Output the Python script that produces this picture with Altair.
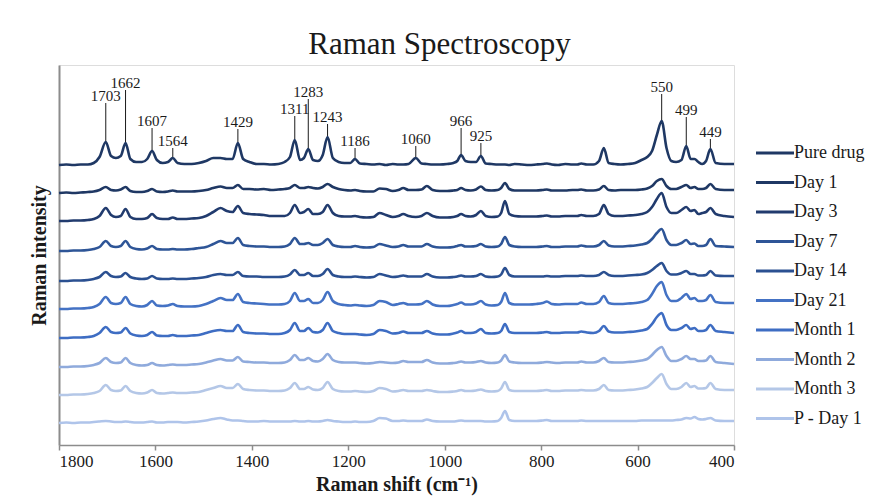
import altair as alt
import pandas as pd

# Raman shift grid (cm-1)
shift = [
    1800, 1785, 1770, 1755, 1740, 1728, 1716, 1703, 1692, 1682,
    1672, 1662, 1652, 1640, 1628, 1617, 1607, 1597, 1585, 1574,
    1564, 1554, 1540, 1525, 1510, 1495, 1480, 1465, 1452, 1440,
    1429, 1418, 1405, 1390, 1375, 1360, 1345, 1332, 1321, 1311,
    1300, 1292, 1283, 1273, 1263, 1253, 1243, 1232, 1220, 1208,
    1196, 1186, 1176, 1162, 1148, 1135, 1122, 1108, 1096, 1086,
    1075, 1060, 1048, 1037, 1025, 1010, 995, 982, 974, 966,
    957, 946, 935, 925, 915, 903, 890, 883, 875, 866,
    855, 840, 825, 810, 797, 788, 778, 765, 750, 735,
    725, 717, 705, 692, 680, 670, 660, 648, 635, 620,
    605, 592, 580, 570, 560, 550, 540, 530, 520, 509,
    499, 490, 482, 474, 466, 458, 449, 438, 420, 400,
]

series = ["Pure drug", "Day 1", "Day 3", "Day 7", "Day 14", "Day 21",
          "Month 1", "Month 2", "Month 3", "P - Day 1"]
offsets = [280, 252, 224, 194, 164, 136, 107, 78, 50, 22]
colors = ["#1F3864", "#1F3864", "#213B6E", "#2E5597", "#2B5091", "#4472C4",
          "#3E6DC3", "#8FAADC", "#B4C7E7", "#AFC4EA"]

pure_drug = [
    0, 0.5, 0, 0.5, 0.5, 2, 8, 23, 9, 7,
    9, 22, 6, 3, 3, 6, 14, 5, 2, 3,
    7, 2, 1, 1, 2, 4, 7, 7, 6, 6,
    22, 6, 3, 1, 1, 0.5, 1, 3, 8, 25,
    5, 7, 16, 5, 4, 10, 28, 7, 3, 2,
    2, 6, 1.5, 1, 0.5, 1, 0, 1, 0.5, 0.5,
    1, 7, 1.5, 1, 0.5, 0.5, 1, 2, 4, 10,
    4, 3, 3, 9, 1.5, 1, 0.5, 0.5, 0.5, 0,
    1, 0.5, 0, 0.5, 1, 1.5, 0.5, 0, 1, 0.5,
    0.5, 1.5, 0.5, 0.5, 4, 17, 2, 1, 0.5, 1,
    2, 5, 8, 14, 30, 44, 17, 4, 3, 5,
    19, 6, 6, 3, 1, 4, 16, 2, 1, 1,
]
day_1 = [
    0, 0.5, 0, 0.5, 1, 1.5, 3, 6, 3, 2.5,
    3.5, 6, 2, 1, 1, 2, 4, 1.5, 1, 1.5,
    2.5, 1.5, 1.5, 1.5, 2, 3, 5, 6.5, 5, 5,
    8, 4, 4, 3.5, 4, 3, 3.5, 4, 5, 8,
    5, 5, 6, 5, 4.5, 6, 9, 6, 4, 3,
    2.5, 3, 2, 1.5, 1.5, 4.5, 4, 2, 3, 5,
    3, 3, 3.5, 7, 3, 2, 2, 2.5, 3, 5,
    3, 2.5, 3.5, 6.5, 3, 2.5, 3, 5, 10, 4,
    2.5, 2.5, 2.5, 2.5, 3, 3.5, 2.5, 2.5, 2.5, 3,
    3, 3.5, 2.5, 2.5, 3.5, 7, 3, 2.5, 3, 3,
    3, 3.5, 4.5, 7, 12, 14, 7, 4, 4, 6,
    8, 5, 6, 4, 4, 5, 9, 4, 3, 3,
]
day_3 = [
    0, 0, 0.5, 0.5, 1, 2, 5, 13, 6, 4,
    5, 12, 4, 2, 2, 3, 7, 3, 2, 2,
    3.5, 2, 2, 2.5, 3, 5, 9, 13, 10, 9,
    15, 8, 7, 6.5, 6, 5, 5, 5, 8, 16,
    8, 9, 12, 7, 7, 9, 16, 8, 5, 4.5,
    4.5, 5, 4, 3.5, 4, 8, 6, 4, 5, 7,
    5, 4, 5, 8, 5, 3.5, 3.5, 4, 5, 7,
    5, 4.5, 6, 10, 5, 4, 4.5, 8, 20, 7,
    5, 4.5, 4.5, 4.5, 5, 5.5, 4.5, 4.5, 5, 5,
    5, 6, 5, 5, 7, 16, 7, 5, 5, 5.5,
    6, 7, 9, 14, 22, 28, 14, 8, 8, 11,
    14, 10, 11, 7, 8, 9, 13, 7, 5, 4,
]
day_7 = [
    0, 0, 0.5, 0.5, 1, 2, 4, 10, 5, 4,
    5, 10, 4, 2, 1.5, 2.5, 5, 2, 1.5, 1.5,
    2, 1.5, 1.5, 2, 3, 4, 7, 10, 8, 8,
    13, 6, 5, 4.5, 4.5, 4, 4, 4.5, 7, 13,
    7, 7, 8, 6, 6, 8, 12, 6, 4.5, 4,
    4, 5, 4, 3.5, 4, 7, 5.5, 4, 4.5, 6,
    4.5, 4.5, 4.5, 7, 4.5, 3.5, 3.5, 4, 5, 6,
    4.5, 4.5, 5, 7, 4.5, 4, 4.5, 7, 14, 6,
    4.5, 4, 4, 4, 4.5, 5, 4, 4, 4.5, 4.5,
    4.5, 5.5, 4.5, 4.5, 6, 10, 5.5, 4.5, 4.5, 5,
    5.5, 6.5, 8, 12, 18, 22, 11, 6, 6, 8,
    11, 7, 7.5, 5, 5, 6, 12, 5, 4.5, 4,
]
day_14 = [
    0, 0, 0.5, 0.5, 1, 2, 4, 9, 5, 4,
    4.5, 8, 4, 2.5, 2, 2.5, 5, 2.5, 2, 2,
    2.5, 2, 2, 2.5, 3, 4, 6, 7, 6, 6,
    9, 5, 4.5, 4.5, 4, 4, 4, 4.5, 6.5, 11,
    6, 6, 8, 5, 5, 7, 12, 6, 4.5, 4,
    4, 4.5, 4, 3.5, 4, 7, 5.5, 4, 4.5, 5.5,
    4.5, 4.5, 4.5, 7, 4.5, 3.5, 3.5, 4, 4.5, 5.5,
    4.5, 4.5, 5, 7, 4.5, 4, 4.5, 6.5, 13, 6,
    4.5, 4.5, 4.5, 4.5, 4.5, 5, 4.5, 4.5, 5, 5,
    5, 5.5, 5, 5, 6, 9, 6, 5, 5, 5.5,
    6, 6.5, 8, 11, 15, 18, 10, 6.5, 6.5, 8,
    10, 7, 7, 5.5, 5.5, 6, 10, 5.5, 5, 5,
]
day_21 = [
    0, 0, 0.5, 0.5, 1, 2, 5, 12, 6, 5,
    6, 12, 5, 3, 2.5, 4, 8, 3.5, 3, 3.5,
    5, 3, 2.5, 2.5, 3, 5, 8, 11, 9, 9,
    15, 7, 6, 5.5, 5, 4.5, 4.5, 5, 8, 16,
    8, 8, 10, 6, 6, 9, 17, 8, 5, 4,
    3.5, 4, 3.5, 3, 4, 8, 7, 4, 5, 6,
    4.5, 4.5, 5, 8, 4.5, 3, 3, 4, 5, 6.5,
    4.5, 4.5, 5.5, 8, 4.5, 3.5, 4, 7, 16, 6,
    4.5, 4.5, 4.5, 5, 6, 7.5, 5, 4.5, 5, 5,
    5, 6.5, 5, 5, 7, 13, 6, 5, 5, 5.5,
    6, 7, 9, 15, 23, 27, 14, 8, 8, 11,
    15, 10, 11, 8, 8, 9, 14, 7, 6, 6,
]
month_1 = [
    0, 0, 0.5, 0.5, 1, 2, 5, 11, 6, 5,
    5.5, 10, 4.5, 2.5, 2, 3, 6, 2.5, 2, 2,
    3, 2, 2, 2.5, 3, 5, 7, 8, 7, 7,
    13, 6, 5, 4.5, 4.5, 4, 4, 5, 8, 15,
    7, 7, 10, 6, 5.5, 8, 15, 7, 5, 4,
    4, 4, 3.5, 3, 4, 8, 7, 4.5, 5, 6.5,
    5, 5, 5, 7, 4.5, 3.5, 3.5, 4.5, 5.5, 7,
    5, 5, 6, 9, 5, 4.5, 5, 7, 14, 6,
    5, 5, 5, 5, 5.5, 6, 5, 5, 5.5, 5.5,
    5.5, 6.5, 5.5, 5, 7, 12, 6.5, 5.5, 5.5, 6,
    6.5, 7.5, 9, 14, 21, 25, 13, 8, 8, 10,
    13, 9, 10, 7, 7, 8, 13, 7, 6, 5,
]
month_2 = [
    0, 0, 0.5, 0.5, 1, 2, 4, 9, 5, 4,
    4.5, 9, 4, 2, 1.5, 2, 4, 2, 1.5, 2,
    2.5, 2, 2, 2.5, 3, 4.5, 6.5, 8, 6.5, 6.5,
    10, 5.5, 5, 4.5, 4.5, 4, 4, 4.5, 7, 12,
    7, 7, 9, 6, 5.5, 8, 13, 7, 5, 4.5,
    4.5, 4.5, 4, 3.5, 4, 5, 4.5, 4, 4.5, 6,
    5, 5, 5, 7, 4.5, 3.5, 3.5, 4, 4.5, 5.5,
    4.5, 4.5, 5, 6, 4.5, 4, 4.5, 6.5, 12, 5.5,
    4.5, 4, 4, 4, 4.5, 5, 4.5, 4, 4.5, 4.5,
    4.5, 5.5, 4.5, 4.5, 6, 9, 5, 4.5, 4.5, 5,
    5.5, 6.5, 8, 12, 17, 20, 11, 6, 6, 8,
    11, 8, 8, 6, 6, 6.5, 11, 5, 4, 3,
]
month_3 = [
    0, 0, 0.5, 0.5, 1, 2, 4, 10, 5, 4,
    4.5, 9, 4, 2, 1.5, 2.5, 5, 2, 1.5, 2,
    2.5, 2, 2, 2.5, 3, 5, 7, 9, 7, 7,
    11, 6, 5, 4.5, 4.5, 4, 4, 4.5, 7, 12,
    6, 6, 8, 5.5, 5, 7, 13, 6, 4, 3.5,
    3.5, 4, 3.5, 3, 4, 7, 6, 3.5, 4, 5,
    4, 4, 4, 5, 4, 3, 3, 3.5, 4, 5,
    4, 4, 4.5, 5.5, 4, 3.5, 4, 6.5, 13, 5,
    4, 4, 4, 4, 4.5, 5, 4, 4, 4.5, 4.5,
    4.5, 5, 4.5, 4.5, 6, 10, 5, 4.5, 4.5, 5,
    5.5, 6.5, 8, 12, 17, 21, 11, 6, 6, 8,
    12, 8, 9, 6.5, 6.5, 7, 12, 6, 5, 5,
]
p_day_1 = [
    0, 0.5, 0, 0.5, 0.5, 1, 1.5, 2, 1.5, 1,
    1, 1.5, 1, 0.5, 0.5, 1, 1.5, 0.5, 0.5, 1,
    1, 1, 0.5, 1, 1.5, 2.5, 4, 5, 3.5, 2.5,
    2.5, 2, 1.5, 1.5, 2, 1.5, 1.5, 1.5, 1.5, 2,
    1.5, 1.5, 2, 1.5, 1.5, 2, 3, 2, 1.5, 1,
    1, 1.5, 1, 1, 2, 5, 4.5, 2, 2, 2.5,
    2, 2, 2, 3.5, 2, 1.5, 1.5, 1.5, 2, 2.5,
    2, 2, 2, 2, 1.5, 1.5, 2, 5, 12, 3,
    2, 2, 2, 2, 2.5, 3, 2, 2, 2, 2,
    2, 2.5, 2, 2, 2, 2, 2, 2, 2, 2,
    2, 2.5, 2.5, 2.5, 2.5, 2.5, 2.5, 2.5, 3, 3.5,
    5, 4.5, 6, 4, 3.5, 4, 5, 2.5, 2, 2,
]

intensities = [pure_drug, day_1, day_3, day_7, day_14, day_21,
               month_1, month_2, month_3, p_day_1]

peak_labels = [1703, 1662, 1607, 1564, 1429, 1311, 1283, 1243, 1186,
               1060, 966, 925, 550, 499, 449]
label_levels = [349, 362, 324, 304, 323, 336, 353, 328, 304,
                306, 324, 309, 358, 335, 313]

rows = []
for name, off, vals in zip(series, offsets, intensities):
    assert len(vals) == len(shift), name
    for wn, v in zip(shift, vals):
        rows.append({"shift": wn, "intensity": off + v, "series": name})
df = pd.DataFrame(rows)

ann = pd.DataFrame({
    "shift": peak_labels,
    "label": [str(p) for p in peak_labels],
    "level": label_levels,
    "top": [lv - 7 for lv in label_levels],
    "peak": [offsets[0] + pure_drug[shift.index(p)] + 1 for p in peak_labels],
})

SERIF = "Liberation Serif"
TXT = "#1a1a1a"
AX = "#8c8c8c"

xscale = alt.Scale(domain=[400, 1800], reverse=True, nice=False, zero=False)
yscale = alt.Scale(domain=[0, 380], nice=False, zero=False)

lines = alt.Chart(df).mark_line(strokeWidth=2.6, interpolate="monotone").encode(
    x=alt.X("shift:Q", scale=xscale,
            axis=alt.Axis(values=[1800, 1600, 1400, 1200, 1000, 800, 600, 400],
                          format="d", title="Raman shift (cm⁻¹)", grid=False,
                          labelFont=SERIF, labelFontSize=17, labelColor=TXT,
                          labelPadding=3, tickSize=5, tickColor=AX, tickWidth=1.5,
                          domainColor=AX, domainWidth=1.5,
                          titleFont=SERIF, titleFontSize=20, titleFontWeight="bold",
                          titleColor=TXT, titlePadding=5)),
    y=alt.Y("intensity:Q", scale=yscale,
            axis=alt.Axis(title="Raman intensity", labels=False, ticks=False, grid=False,
                          domainColor=AX, domainWidth=2,
                          titleFont=SERIF, titleFontSize=20, titleFontWeight="bold",
                          titleColor=TXT, titlePadding=10)),
    color=alt.Color("series:N", sort=series,
                    scale=alt.Scale(domain=series, range=colors),
                    legend=alt.Legend(title=None, orient="none", legendX=705, legendY=77,
                                      symbolType="M-2,0H2", symbolSize=361,
                                      symbolStrokeWidth=3, labelFont=SERIF,
                                      labelFontSize=18, labelColor=TXT,
                                      rowPadding=9.5, labelOffset=8)),
    order=alt.Order("shift:Q", sort="descending"),
)

rules = alt.Chart(ann).mark_rule(color=TXT, strokeWidth=1).encode(
    x=alt.X("shift:Q", scale=xscale),
    y=alt.Y("top:Q", scale=yscale),
    y2="peak:Q",
)

texts = alt.Chart(ann).mark_text(font=SERIF, fontSize=15, color=TXT,
                                 baseline="middle", align="center").encode(
    x=alt.X("shift:Q", scale=xscale),
    y=alt.Y("level:Q", scale=yscale),
    text="label:N",
)

chart = alt.layer(lines, rules, texts).properties(
    width=675, height=380,
    title=alt.TitleParams("Raman Spectroscopy", font=SERIF, fontSize=31,
                          fontWeight="normal", color=TXT, anchor="middle",
                          baseline="alphabetic", offset=10, dx=43, dy=30),
    padding={"left": 59, "top": 65, "right": 147, "bottom": 55},
    autosize=alt.AutoSizeParams(type="none"),
).configure_view(stroke=None).configure(background="white")

chart.save("out.html", embed_options={"renderer": "svg", "actions": False})
